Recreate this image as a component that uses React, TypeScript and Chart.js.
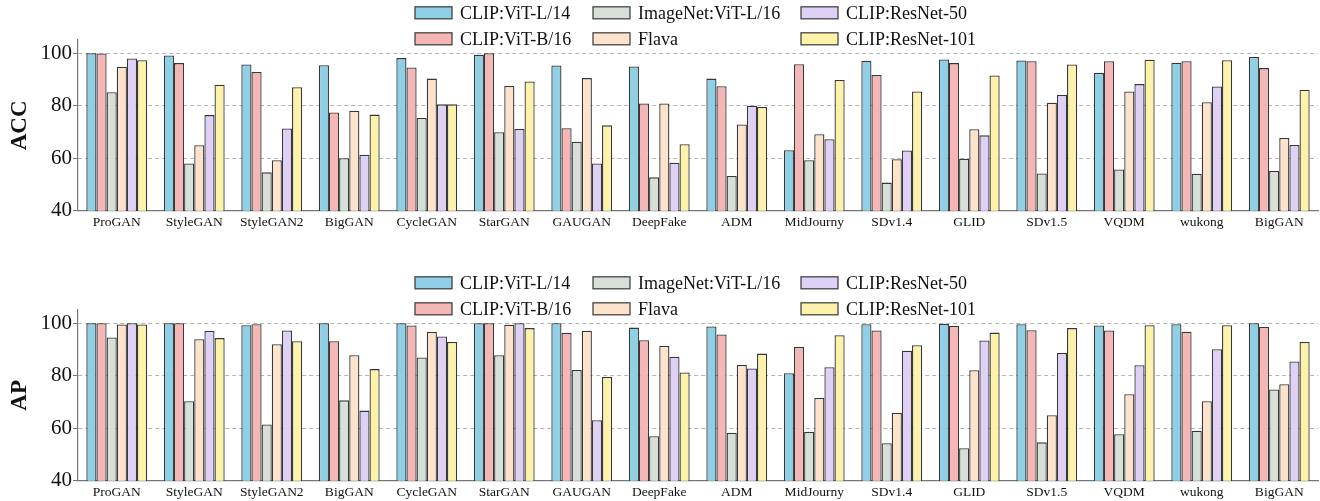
import React, { useEffect, useRef } from "react";
import { Chart, registerables } from "chart.js";

Chart.register(...registerables);

const categories = ["ProGAN", "StyleGAN", "StyleGAN2", "BigGAN", "CycleGAN", "StarGAN", "GAUGAN", "DeepFake", "ADM", "MidJourny", "SDv1.4", "GLID", "SDv1.5", "VQDM", "wukong", "BigGAN"];

const seriesNames = ["CLIP:ViT-L/14", "CLIP:ViT-B/16", "ImageNet:ViT-L/16", "Flava", "CLIP:ResNet-50", "CLIP:ResNet-101"];
const seriesColors = ["#8fd0e7", "#f5b6b6", "#d6e0d9", "#fde3cc", "#ded1f5", "#fdf2aa"];

// ACC values
const accVitL14 = [100, 99.1, 95.7, 95.4, 98.1, 99.4, 95.3, 94.9, 90.3, 63.0, 97.1, 97.6, 97.2, 92.5, 96.3, 98.5];
const accVitB16 = [99.9, 96.2, 92.8, 77.4, 94.5, 100, 71.4, 80.8, 87.4, 95.8, 91.7, 96.2, 96.9, 96.9, 96.9, 94.3];
const accImageNet = [85.1, 58.0, 54.6, 60.0, 75.3, 69.9, 66.3, 52.7, 53.2, 59.2, 50.7, 59.8, 54.2, 55.7, 54.1, 55.1];
const accFlava = [94.8, 64.9, 59.2, 78.1, 90.3, 87.5, 90.5, 80.8, 72.8, 69.1, 59.6, 71.0, 81.1, 85.4, 81.3, 67.7];
const accRn50 = [98.0, 76.4, 71.3, 61.3, 80.5, 71.1, 58.0, 58.3, 80.0, 67.2, 62.9, 68.7, 84.1, 88.2, 87.3, 65.0];
const accRn101 = [97.3, 88.0, 87.0, 76.6, 80.5, 89.2, 72.5, 65.3, 79.5, 89.8, 85.4, 91.5, 95.7, 97.5, 97.3, 86.1];

// AP values
const apVitL14 = [100, 100, 99.2, 100, 100, 100, 100, 98.3, 98.7, 80.9, 99.6, 99.7, 99.6, 99.1, 99.6, 100];
const apVitB16 = [100, 100, 99.6, 93.1, 99.1, 100, 96.3, 93.5, 95.7, 90.9, 97.2, 98.9, 97.3, 97.2, 96.7, 98.5];
const apImageNet = [94.5, 70.3, 61.4, 70.6, 86.9, 87.8, 82.2, 56.9, 58.3, 58.6, 54.3, 52.4, 54.6, 57.7, 59.0, 74.7];
const apFlava = [99.5, 93.9, 92.0, 87.8, 96.6, 99.4, 97.1, 91.4, 84.1, 71.5, 65.8, 82.1, 64.9, 72.9, 70.3, 76.7];
const apRn50 = [100, 97.0, 97.2, 66.7, 94.9, 100, 63.0, 87.2, 82.7, 83.2, 89.5, 93.4, 88.6, 84.0, 90.1, 85.4];
const apRn101 = [99.5, 94.3, 93.1, 82.5, 92.8, 98.1, 79.5, 81.2, 88.4, 95.4, 91.6, 96.4, 98.1, 99.2, 99.2, 92.8];

const yTicks = [40, 60, 80, 100];

const FONT = "'Liberation Serif', 'Times New Roman', Times, serif";
const W = 1320;
const H = 231;

// legend layout: column-major, 3 columns x 2 rows
const legendCols = [415, 593, 801];
const legendRows = [12.8, 38.8];

const legendPlugin = {
  id: "customLegend",
  afterDraw(chart: any) {
    const ctx = chart.ctx;
    ctx.save();
    ctx.font = `18px ${FONT}`;
    ctx.textBaseline = "alphabetic";
    ctx.textAlign = "left";
    seriesNames.forEach((name, i) => {
      const col = Math.floor(i / 2);
      const row = i % 2;
      const x = legendCols[col];
      const cy = legendRows[row];
      ctx.fillStyle = seriesColors[i];
      ctx.fillRect(x, cy - 6, 37, 12);
      ctx.strokeStyle = "rgba(50,50,50,0.9)";
      ctx.lineWidth = 1.3;
      ctx.strokeRect(x, cy - 6, 37, 12);
      ctx.fillStyle = "#111";
      ctx.fillText(name, x + 45, cy + 6);
    });
    ctx.restore();
  },
};

function Panel({ title, values }: { title: string; values: number[][] }) {
  const ref = useRef<HTMLCanvasElement | null>(null);
  useEffect(() => {
    if (!ref.current) return;
    const chart = new Chart(ref.current, {
      type: "bar",
      data: {
        labels: categories,
        datasets: values.map((v, i) => ({
          label: seriesNames[i],
          data: v,
          backgroundColor: seriesColors[i],
          borderColor: "rgba(20,20,20,0.85)",
          borderWidth: 1.3,
          categoryPercentage: 0.785,
          barPercentage: 1.0,
        })),
      },
      options: {
        responsive: false,
        animation: false,
        devicePixelRatio: 1,
        layout: { padding: { top: 40, right: 2, left: 0, bottom: 0 } },
        plugins: { legend: { display: false }, tooltip: { enabled: false } },
        scales: {
          x: {
            type: "category",
            offset: true,
            grid: { display: false, drawTicks: false },
            border: { display: true, color: "#777", width: 1.2 },
            ticks: { color: "#111", font: { family: FONT, size: 13.5 }, padding: 4, maxRotation: 0, autoSkip: false },
            afterFit: (s: any) => { s.height = H - 210.7; },
          },
          y: {
            min: 40,
            max: 105,
            afterBuildTicks: (s: any) => { s.ticks = yTicks.map((v) => ({ value: v })); },
            grid: {
              color: (c: any) => (c.tick && c.tick.value === 40 ? "rgba(0,0,0,0)" : "#b5b5b5"),
              lineWidth: 1,
              tickLength: 5,
              tickColor: "#777",
              tickBorderDash: [],
            },
            border: { display: true, color: "#777", width: 1.2, dash: [4, 3] },
            ticks: { color: "#111", font: { family: FONT, size: 21 }, padding: 1 },
            title: { display: true, text: title, color: "#111", font: { family: FONT, size: 23, weight: "bold" }, padding: { top: 6, bottom: 0 } },
            afterFit: (s: any) => { s.width = 78; },
          },
        },
      },
      plugins: [legendPlugin],
    } as any);
    return () => chart.destroy();
  }, []);
  return <canvas ref={ref} width={W} height={H} style={{ width: W, height: H, display: "block" }} />;
}

export default function App() {
  return (
    <div style={{ position: "absolute", left: 0, top: 0, width: W, height: 501, background: "#fff" }}>
      <div style={{ position: "absolute", left: 0, top: 0 }}>
        <Panel title="ACC" values={[accVitL14, accVitB16, accImageNet, accFlava, accRn50, accRn101]} />
      </div>
      <div style={{ position: "absolute", left: 0, top: 270 }}>
        <Panel title="AP" values={[apVitL14, apVitB16, apImageNet, apFlava, apRn50, apRn101]} />
      </div>
    </div>
  );
}
